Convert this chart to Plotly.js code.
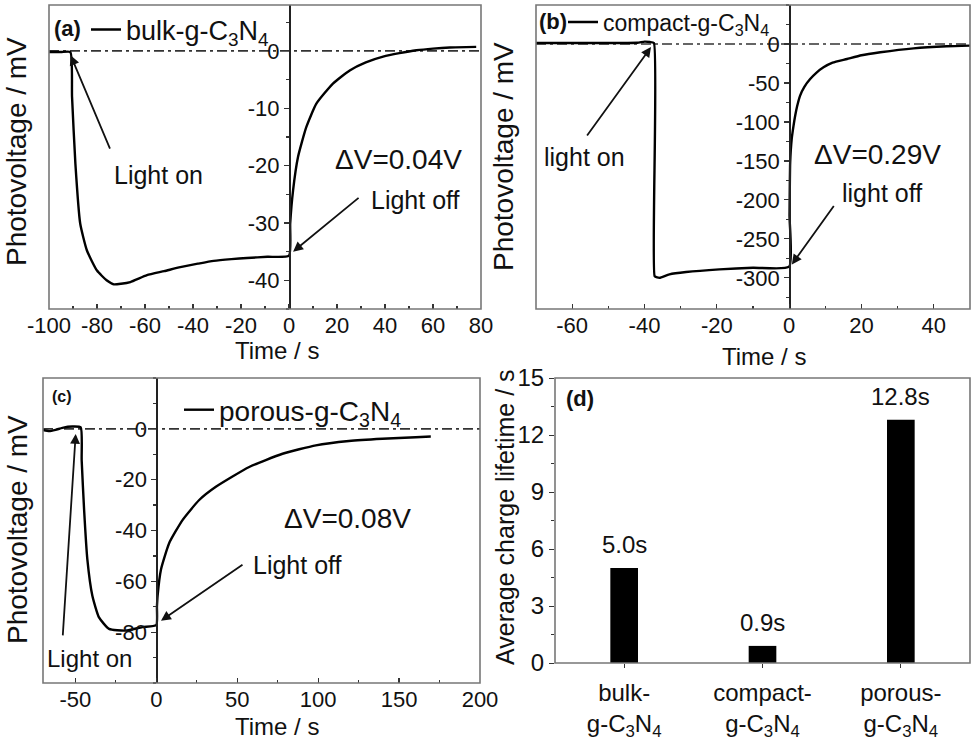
<!DOCTYPE html>
<html>
<head>
<meta charset="utf-8">
<script src="https://cdn.plot.ly/plotly-3.0.1.min.js"></script>
<style>
  html, body { margin: 0; padding: 0; background: #fff; }
  #chart { width: 977px; height: 741px; }
</style>
</head>
<body>
<div id="chart"></div>
<script>
// transient photovoltage (time in s, voltage in mV)
const timeA = [-100, -95, -91.1, -90.4, -89.0, -87.0, -84.2, -80, -76, -73, -70, -66.1, -59.2, -52, -45.3, -38, -31.4, -24, -17.5, -9, 0,
               0.5, 1.7, 3.75, 7.2, 11.4, 18.3, 25.3, 32, 39.2, 46, 53.1, 60, 67, 78];
const voltA = [-0.2, -0.2, -0.2, -8.0, -19.7, -30.1, -34.8, -38.3, -40.0, -40.7, -40.6, -40.3, -39.1, -38.4, -37.7, -37.1, -36.6, -36.3, -36.1, -35.9, -35.7,
               -30.1, -24.3, -18.5, -13.3, -9.2, -5.7, -3.4, -2.0, -1.0, -0.4, 0.1, 0.4, 0.6, 0.7];

const timeB = [-70, -50, -42, -40, -38.5, -37.4, -37.2, -36.5, -35.8, -33.1, -28.5, -19.3, -10, 0,
               0.1, 0.28, 0.7, 1.2, 1.66, 2.2, 3.0, 4.2, 5.8, 7.5, 9.5, 12, 16, 20, 25.2, 34.4, 43.6, 50];
const voltB = [1.3, 1.3, 1.5, 3, 2.5, 1.3, -297.8, -299.5, -300, -295.6, -292.6, -289.2, -287, -285.7,
               -220, -152, -122, -105, -92, -80, -66.5, -55, -45, -37, -30, -24, -19.3, -14.5, -10.7, -5.6, -3, -2.1];

const timeC = [-70.4, -66.2, -62.2, -58, -51.9, -46.7, -46.1, -44.6, -42.6, -39.5, -35.4, -29.2, -18.9, -8.6, 0,
               0.4, 0.8, 2.9, 8, 16.3, 26.5, 36.8, 57.4, 78, 98.6, 119, 139.7, 160.3, 169.6];
const voltC = [-0.4, -0.9, -0.4, 0.4, 0.9, 0.6, -12.4, -31.9, -51.4, -65.7, -74.2, -78.7, -79.4, -78, -77.2,
               -70, -65.7, -55.3, -44.9, -35.8, -28, -22.8, -15, -9.8, -6.5, -4.8, -3.9, -3.3, -3.0];

const sampleNames = ['bulk-g-C<sub>3</sub>N<sub>4</sub>', 'compact-g-C<sub>3</sub>N<sub>4</sub>', 'porous-g-C<sub>3</sub>N<sub>4</sub>'];

// tick values of the three transient panels
const ticksTimeA = [-100, -80, -60, -40, -20, 0, 20, 40, 60, 80];
const ticksVoltA = [-40, -30, -20, -10, 0];
const ticksTimeB = [-60, -40, -20, 0, 20, 40];
const ticksVoltB = [-300, -250, -200, -150, -100, -50, 0];
const ticksTimeC = [-50, 0, 50, 100, 150, 200];
const ticksVoltC = [-80, -60, -40, -20, 0];

// average charge lifetime (s)
const lifetimeCats = ['bulk-<br>g-C<sub>3</sub>N<sub>4</sub>', 'compact-<br>g-C<sub>3</sub>N<sub>4</sub>', 'porous-<br>g-C<sub>3</sub>N<sub>4</sub>'];
const lifetimes = [5.0, 0.9, 12.8];
const lifetimeLabels = ['5.0s', '0.9s', '12.8s'];
const ticksLifetime = [0, 3, 6, 9, 12, 15];

const W = 977, H = 741;
const FONT = 'Liberation Sans, Arial, sans-serif';
const INK = '#111';

// pixel boxes -> paper fractions
const fx = p => p / W;
const fy = p => 1 - p / H;
const domA = [fx(49), fx(481)], domB = [fx(536), fx(970)];
const domC = [fx(43), fx(480)], domD = [fx(555), fx(970)];
const rowTop = [fy(309), fy(5)];
const rowBotC = [fy(683), fy(378)], rowBotD = [fy(663), fy(378)];

const rangeA = [-100, 80], rangeB = [-70, 50], rangeC = [-70, 200];
function zeroPos(dom, range) {
  return dom[0] + (0 - range[0]) / (range[1] - range[0]) * (dom[1] - dom[0]);
}

// plain hyphen minus, like the original figure
const txt = vals => vals.map(v => String(v));

function xAxis(dom, range, vals, minorDtick, anchor) {
  return {domain: dom, range: range, anchor: anchor, tickmode: 'array', tickvals: vals, ticktext: txt(vals),
          ticks: 'inside', ticklen: 5, tickcolor: '#333', tickwidth: 1.2,
          minor: {dtick: minorDtick, tick0: 0, ticks: 'inside', ticklen: 3, tickcolor: '#333'},
          showgrid: false, zeroline: false, showline: false,
          tickfont: {size: 22, color: INK}, ticklabelstandoff: 1};
}
function yAxisFree(dom, range, vals, minorDtick, pos) {
  return {domain: dom, range: range, anchor: 'free', position: pos,
          tickmode: 'array', tickvals: vals, ticktext: txt(vals),
          ticks: 'outside', ticklen: 5, tickcolor: '#333', tickwidth: 1.2,
          minor: {dtick: minorDtick, tick0: 0, ticks: 'outside', ticklen: 3, tickcolor: '#333'},
          showgrid: false, zeroline: false, showline: true, linecolor: '#222', linewidth: 1.5,
          tickfont: {size: 22, color: INK}};
}

const curveLine = {color: '#000', width: 2.4, shape: 'spline', smoothing: 0.5};

const data = [
  {x: timeA, y: voltA, type: 'scatter', mode: 'lines', line: curveLine, xaxis: 'x', yaxis: 'y',
   name: sampleNames[0], legend: 'legend'},
  {x: timeB, y: voltB, type: 'scatter', mode: 'lines', line: curveLine, xaxis: 'x2', yaxis: 'y2',
   name: sampleNames[1], legend: 'legend2'},
  {x: timeC, y: voltC, type: 'scatter', mode: 'lines', line: curveLine, xaxis: 'x3', yaxis: 'y3',
   name: sampleNames[2], legend: 'legend3'},
  {x: lifetimeCats, y: lifetimes, type: 'bar', width: 0.2, marker: {color: '#000'},
   xaxis: 'x4', yaxis: 'y4', showlegend: false}
];

function frame(n) {
  const s = n === 1 ? '' : n;
  return {type: 'rect', xref: 'x' + s + ' domain', yref: 'y' + s + ' domain', x0: 0, x1: 1, y0: 0, y1: 1,
          line: {color: '#777', width: 1.6}};
}
function zeroLine(n) {
  const s = n === 1 ? '' : n;
  return {type: 'line', xref: 'x' + s + ' domain', yref: 'y' + s, x0: 0, x1: 1, y0: 0, y1: 0, layer: 'below',
          line: {color: '#333', width: 1.6, dash: '10px,4px,3px,4px'}};
}

function label(xp, yp, text, size, extra) {
  return Object.assign({xref: 'paper', yref: 'paper', x: fx(xp), y: fy(yp), text: text, showarrow: false,
                        xanchor: 'center', yanchor: 'middle', font: {size: size, color: INK}}, extra || {});
}
function arrow(xa, ya, x, y, ax, ay) {
  return {xref: xa, yref: ya, x: x, y: y, ax: ax, ay: ay, text: '', showarrow: true,
          arrowhead: 2, arrowsize: 1.1, arrowwidth: 1.8, arrowcolor: INK};
}

const annotations = [
  // panel letters
  label(67, 28, '<b>(a)</b>', 22),
  label(553, 22, '<b>(b)</b>', 22),
  label(62, 396, '<b>(c)</b>', 16),
  label(580, 398, '<b>(d)</b>', 22),
  // axis titles
  label(17, 152, 'Photovoltage / mV', 28, {textangle: -90}),
  label(503, 157, 'Photovoltage / mV', 28, {textangle: -90}),
  label(17, 530, 'Photovoltage / mV', 28, {textangle: -90}),
  label(505, 517, 'Average charge lifetime / s', 25, {textangle: -90}),
  label(277, 351, 'Time / s', 24),
  label(764, 356, 'Time / s', 24),
  label(277, 726, 'Time / s', 24),
  // in-plot notes
  label(158, 175, 'Light on', 25),
  label(415, 200, 'Light off', 25),
  label(398, 159, 'ΔV=0.04V', 28),
  label(584, 157, 'light on', 25),
  label(882, 193, 'light off', 25),
  label(877, 155, 'ΔV=0.29V', 28),
  label(89, 658, 'Light on', 24),
  label(297, 565, 'Light off', 25),
  label(347, 518, 'ΔV=0.08V', 28),
  // arrows
  arrow('x', 'y', -91, -0.75, 40, 95),
  arrow('x', 'y', 1.7, -35, 67, -55),
  arrow('x2', 'y2', -38.2, -4, -65, 90),
  arrow('x2', 'y2', 0.75, -282.8, 43, -60),
  arrow('x3', 'y3', -49.8, -2, -13, 203),
  arrow('x3', 'y3', 2.9, -75.5, 83, -57)
];
lifetimeCats.forEach((c, i) => {
  annotations.push({xref: 'x4', yref: 'y4', x: c, y: lifetimes[i], text: lifetimeLabels[i], showarrow: false,
                    xanchor: 'center', yanchor: 'bottom', yshift: 8, font: {size: 24, color: INK}});
});

function legendAt(xp, yp, size) {
  return {x: fx(xp), y: fy(yp), xanchor: 'left', yanchor: 'middle', bgcolor: 'rgba(0,0,0,0)',
          borderwidth: 0, font: {size: size, color: INK}, itemwidth: 30};
}

const layout = {
  width: W, height: H,
  margin: {l: 0, r: 0, t: 0, b: 0},
  paper_bgcolor: '#fff', plot_bgcolor: 'rgba(0,0,0,0)',
  font: {family: FONT, color: INK},
  showlegend: true,
  legend: legendAt(86, 30, 27),
  legend2: legendAt(563, 22, 23),
  legend3: legendAt(179, 410, 28),
  xaxis: xAxis(domA, rangeA, ticksTimeA, 10, 'y'),
  yaxis: yAxisFree(rowTop, [-45, 8], ticksVoltA, 5, zeroPos(domA, rangeA)),
  xaxis2: xAxis(domB, rangeB, ticksTimeB, 10, 'y2'),
  yaxis2: yAxisFree(rowTop, [-340, 50], ticksVoltB, 25, zeroPos(domB, rangeB)),
  xaxis3: xAxis(domC, rangeC, ticksTimeC, 25, 'y3'),
  yaxis3: yAxisFree(rowBotC, [-100, 20], ticksVoltC, 10, zeroPos(domC, rangeC)),
  xaxis4: {domain: domD, range: [-0.5, 2.5], anchor: 'y4', ticks: 'outside', ticklen: 4, tickcolor: '#333',
           showgrid: false, zeroline: false, showline: false, tickfont: {size: 24, color: INK}, ticklabelstandoff: 4},
  yaxis4: {domain: rowBotD, range: [0, 15], anchor: 'x4', tickmode: 'array', tickvals: ticksLifetime, ticktext: txt(ticksLifetime),
           ticks: 'outside', ticklen: 5, tickcolor: '#333',
           minor: {dtick: 1.5, ticks: 'outside', ticklen: 3, tickcolor: '#333'},
           showgrid: false, zeroline: false, showline: false, tickfont: {size: 24, color: INK}},
  shapes: [zeroLine(1), zeroLine(2), zeroLine(3), frame(1), frame(2), frame(3), frame(4)],
  annotations: annotations
};

Plotly.newPlot('chart', data, layout, {displayModeBar: false, staticPlot: true});
</script>
</body>
</html>
